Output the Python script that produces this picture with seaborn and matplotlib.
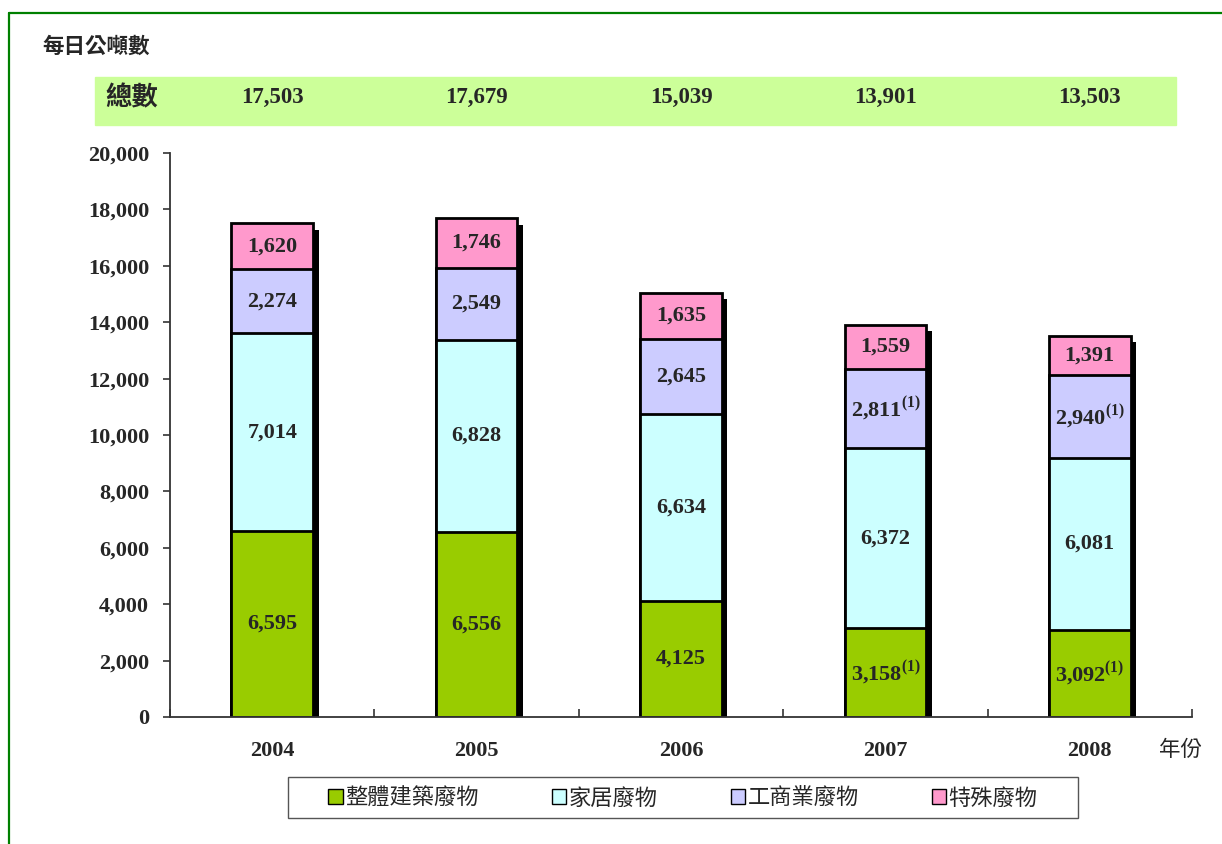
import numpy as np
import matplotlib
matplotlib.use("Agg")
import matplotlib.pyplot as plt
import matplotlib.patheffects as pe
from matplotlib.patches import Patch, Rectangle
from matplotlib.lines import Line2D
from matplotlib.ticker import FuncFormatter, FixedLocator
import matplotlib.transforms as mtransforms
import seaborn as sns

sns.set_style('white')
plt.rcParams['font.family'] = ['Liberation Serif', 'Noto Sans CJK TC', 'DejaVu Sans']
plt.rcParams['mathtext.fontset'] = 'custom'
plt.rcParams['mathtext.bf'] = 'Liberation Serif:bold'
plt.rcParams['mathtext.rm'] = 'Liberation Serif:bold'

years = ['2004', '2005', '2006', '2007', '2008']
construction = [6595, 6556, 4125, 3158, 3092]
domestic = [7014, 6828, 6634, 6372, 6081]
commercial = [2274, 2549, 2645, 2811, 2940]
special = [1620, 1746, 1635, 1559, 1391]
totals = [17503, 17679, 15039, 13901, 13503]
# (1) footnote marks on 2007/2008 figures
note_construction = [False, False, False, True, True]
note_commercial = [False, False, False, True, True]

series_names = ['整體建築廢物', '家居廢物', '工商業廢物', '特殊廢物']
colors = ['#99CC00', '#CCFFFF', '#CCCCFF', '#FF99CC']
cjk = ['Noto Sans CJK TC', 'DejaVu Sans']
num_font = dict(family='Liberation Serif', weight='bold')

layers = [construction, domestic, commercial, special]
cum = np.cumsum(np.array(layers), axis=0)

fig = plt.figure(figsize=(12.22, 8.44), dpi=100)
ax = fig.add_axes([170 / 1222, 127 / 844, 1022 / 1222, 564 / 844])

# draw stacks from the top layer down so each cumulative bar covers the previous one
for i in range(3, -1, -1):
    n_before = len(ax.patches)
    sns.barplot(x=years, y=cum[i], color=colors[i], saturation=1, width=0.4,
                edgecolor='black', linewidth=2, ax=ax)
    if i == 3:
        for p in ax.patches[n_before:]:
            p.set_path_effects([pe.SimplePatchShadow(offset=(4, -4.5), shadow_rgbFace='black', alpha=1),
                                pe.Normal()])

# segment labels
for i, vals in enumerate(layers):
    bottoms = cum[i] - np.array(vals)
    for j, v in enumerate(vals):
        s = '{:,}'.format(v)
        if (i == 0 and note_construction[j]) or (i == 2 and note_commercial[j]):
            s += r'$^{\mathbf{(1)}}$'
        ax.text(j, bottoms[j] + v / 2, s, ha='center', va='center', fontsize=16, **num_font)

ax.set_xlim(-0.5, 4.5)
ax.set_ylim(0, 20000)
ax.set_yticks(np.arange(0, 20001, 2000))
ax.yaxis.set_major_formatter(FuncFormatter(lambda v, p: '{:,}'.format(int(v))))
for lab in ax.get_yticklabels() + ax.get_xticklabels():
    lab.set_fontweight('bold')
    lab.set_fontfamily('Liberation Serif')
    lab.set_fontsize(16)
ax.tick_params(axis='y', direction='out', length=5, width=1.2, color='#333333', pad=10, left=True)
ax.tick_params(axis='x', which='major', length=0, pad=17)
ax.xaxis.set_minor_locator(FixedLocator(np.arange(-0.5, 4.6, 1)))
ax.tick_params(axis='x', which='minor', direction='in', length=6, width=1.2, color='#333333', bottom=True)
ax.set_xlabel('')
ax.set_ylabel('')
for side in ['top', 'right']:
    ax.spines[side].set_visible(False)
for side in ['left', 'bottom']:
    ax.spines[side].set_color('#333333')
    ax.spines[side].set_linewidth(1.3)

# green frame
fig.add_artist(Line2D([9 / 1222, 9 / 1222], [0, 1 - 13 / 844], transform=fig.transFigure, color='#008000', lw=1.6))
fig.add_artist(Line2D([9 / 1222, 1], [1 - 13 / 844, 1 - 13 / 844], transform=fig.transFigure, color='#008000', lw=1.6))

# title and totals band
fig.text(42 / 1222, 1 - 46 / 844, '每日公噸數', family=cjk, fontsize=15.5, weight='bold', va='center', ha='left')
fig.add_artist(Rectangle((95 / 1222, 1 - 125 / 844), 1081 / 1222, 48 / 844,
                         transform=fig.transFigure, color='#CCFF99', zorder=0))
fig.text(105 / 1222, 1 - 98 / 844, '總數', family=cjk, fontsize=19, weight='bold', va='center', ha='left')
trans = mtransforms.blended_transform_factory(ax.transData, fig.transFigure)
for j, t in enumerate(totals):
    ax.text(j, 1 - 97 / 844, '{:,}'.format(t), transform=trans, ha='center', va='center',
            fontsize=16.5, clip_on=False, **num_font)

fig.text(1180 / 1222, 1 - 750 / 844, '年份', family=cjk, fontsize=15.5, va='center', ha='center')

# legend with a separately drawn frame
fig.add_artist(Rectangle((288 / 1222, 1 - 818 / 844), 790 / 1222, 41 / 844, transform=fig.transFigure,
                         facecolor='white', edgecolor='#555555', lw=1, zorder=1))
handles = [Patch(facecolor=c, edgecolor='black', linewidth=1) for c in colors]
leg = fig.legend(handles, series_names, ncol=4, loc='center',
                 bbox_to_anchor=(683 / 1222, 1 - 798 / 844),
                 prop={'family': cjk, 'size': 16}, frameon=False,
                 handlelength=0.65, handleheight=0.65, handletextpad=0.1, columnspacing=3.3)
leg.set_zorder(2)

fig.savefig('out.png', dpi=100)
